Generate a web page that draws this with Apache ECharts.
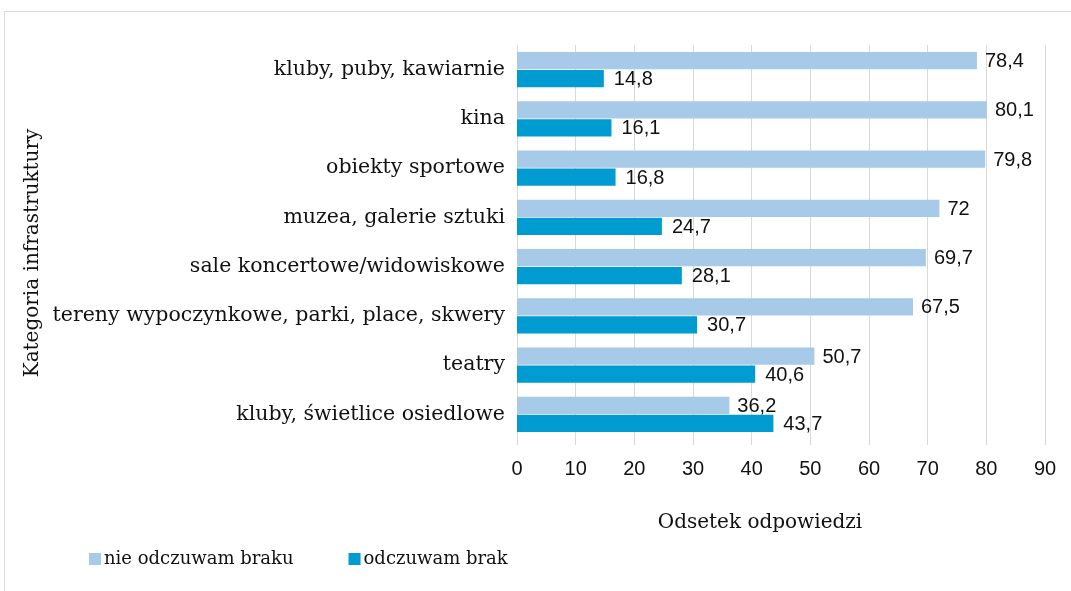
<!DOCTYPE html>
<html><head><meta charset="utf-8">
<script src="https://cdn.jsdelivr.net/npm/echarts@6/dist/echarts.min.js"></script>
<style>html,body{margin:0;padding:0;background:#fff}#c{width:1071px;height:591px}</style>
</head><body><div id="c"></div>
<script>
const categories = ["kluby, puby, kawiarnie","kina","obiekty sportowe","muzea, galerie sztuki","sale koncertowe/widowiskowe","tereny wypoczynkowe, parki, place, skwery","teatry","kluby, świetlice osiedlowe"];
const nieOdczuwam = [78.4,80.1,79.8,72,69.7,67.5,50.7,36.2];
const odczuwam = [14.8,16.1,16.8,24.7,28.1,30.7,40.6,43.7];
const seriesNames = ["nie odczuwam braku","odczuwam brak"];
const xTicks = [0,10,20,30,40,50,60,70,80,90];
const yTitle = "Kategoria infrastruktury";
const xTitle = "Odsetek odpowiedzi";

const serif = "DejaVu Serif";
const sans = "Liberation Sans, sans-serif";
const fmt = p => String(p.value).replace('.', ',');
const chart = echarts.init(document.getElementById('c'));
chart.setOption({
  animation:false,
  graphic:[
    {type:'rect',shape:{x:4.5,y:11.5,width:1080,height:600},style:{fill:'none',stroke:'#d9d9d9',lineWidth:1}},
    {type:'text',x:33,y:253,rotation:Math.PI/2,style:{text:yTitle,font:'20px "DejaVu Serif"',fill:'#111',align:'center',verticalAlign:'middle'}},
    {type:'text',x:760,y:523,style:{text:xTitle,font:'20px "DejaVu Serif"',fill:'#111',align:'center',verticalAlign:'middle'}}
  ],
  grid:{left:517,right:26,top:45,bottom:152},
  legend:{left:84,top:545,itemWidth:12,itemHeight:12,itemGap:55,icon:'rect',
    textStyle:{fontFamily:serif,fontSize:18,color:'#111',padding:[0,0,0,-2]},data:seriesNames},
  xAxis:{type:'value',min:xTicks[0],max:xTicks[xTicks.length-1],interval:10,
    axisLine:{show:false},axisTick:{show:true,length:6,lineStyle:{color:'#d9d9d9'}},
    axisLabel:{fontFamily:sans,fontSize:20,color:'#111',margin:20},
    splitLine:{lineStyle:{color:'#d9d9d9'}}},
  yAxis:{type:'category',data:categories,inverse:true,
    axisLine:{show:false},axisTick:{show:false},
    axisLabel:{fontFamily:serif,fontSize:20.5,color:'#111',margin:12}},
  series:[
    {name:seriesNames[0],type:'bar',data:nieOdczuwam,barGap:'4%',barCategoryGap:'28%',
      itemStyle:{color:'#a7cae8'},
      label:{show:true,position:'right',distance:8,offset:[0,1],formatter:fmt,fontFamily:sans,fontSize:20,color:'#111'}},
    {name:seriesNames[1],type:'bar',data:odczuwam,
      itemStyle:{color:'#009bd0'},
      label:{show:true,position:'right',distance:10,offset:[0,1],formatter:fmt,fontFamily:sans,fontSize:20,color:'#111'}}
  ]
});
</script></body></html>
